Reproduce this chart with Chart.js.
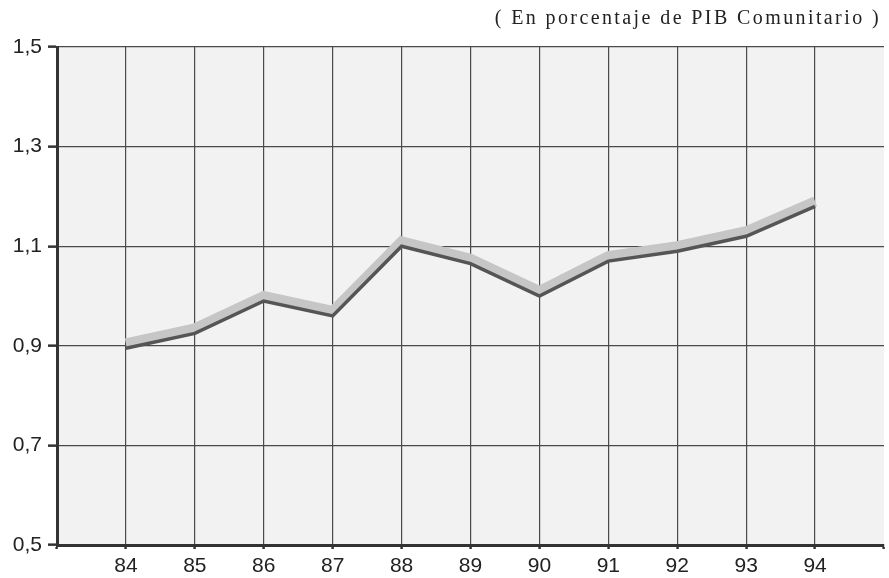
<!DOCTYPE html>
<html>
<head>
<meta charset="utf-8">
<script src="https://cdn.jsdelivr.net/npm/chart.js@4/dist/chart.umd.min.js"></script>
<style>
  html, body { margin: 0; padding: 0; background: #ffffff; }
  #wrap { width: 889px; height: 578px; position: relative; }
</style>
</head>
<body>
<div id="wrap"><canvas id="c" width="889" height="578"></canvas></div>
<script>
const titleText = '( En porcentaje de PIB Comunitario )';
const years = [84, 85, 86, 87, 88, 89, 90, 91, 92, 93, 94];
const values = [0.895, 0.925, 0.99, 0.96, 1.10, 1.065, 1.0, 1.07, 1.09, 1.12, 1.18];
const yTicks = [0.5, 0.7, 0.9, 1.1, 1.3, 1.5];
const xMin = 83, xMax = 95;

const points = years.map((yr, i) => ({ x: yr, y: values[i] }));

const plotBg = {
  id: 'plotBg',
  beforeDraw(chart) {
    const { ctx, chartArea: a } = chart;
    ctx.save();
    ctx.fillStyle = '#f2f2f2';
    ctx.fillRect(a.left, a.top, a.right - a.left, a.bottom - a.top);
    ctx.restore();
  }
};

const shadowShift = {
  id: 'shadowShift',
  beforeDatasetDraw(chart, args) {
    if (args.index === 1) { chart.ctx.save(); chart.ctx.translate(0, -5); }
  },
  afterDatasetDraw(chart, args) {
    if (args.index === 1) { chart.ctx.restore(); }
  }
};

const titlePlugin = {
  id: 'titlePlugin',
  afterDraw(chart) {
    const ctx = chart.ctx;
    ctx.save();
    ctx.font = '20px "Liberation Serif", "Times New Roman", serif';
    ctx.letterSpacing = '2.4px';
    ctx.fillStyle = '#222';
    ctx.textAlign = 'right';
    ctx.textBaseline = 'alphabetic';
    ctx.fillText(titleText, 881, 24);
    ctx.restore();
  }
};

new Chart(document.getElementById('c'), {
  type: 'line',
  data: {
    datasets: [
      {
        data: points,
        borderColor: '#555555',
        borderWidth: 3.5,
        pointRadius: 0,
        tension: 0,
        order: 0
      },
      {
        data: points,
        borderColor: '#c6c6c6',
        borderWidth: 10,
        pointRadius: 0,
        tension: 0,
        order: 1
      }
    ]
  },
  options: {
    responsive: false,
    animation: false,
    layout: { padding: { top: 47, right: 2, left: 0, bottom: 0 } },
    plugins: { legend: { display: false }, tooltip: { enabled: false }, title: { display: false } },
    scales: {
      x: {
        type: 'linear',
        min: xMin,
        max: xMax,
        afterFit(scale) { scale.height = 33; },
        afterBuildTicks(scale) {
          const t = [xMin].concat(years, [xMax]);
          scale.ticks = t.map(v => ({ value: v }));
        },
        ticks: {
          autoSkip: false,
          maxRotation: 0,
          padding: 5,
          color: '#222',
          font: { family: '"Liberation Sans", Arial, sans-serif', size: 21 },
          callback: (v) => years.includes(v) ? String(v) : ''
        },
        grid: {
          color: (c) => (c.tick && c.tick.value === xMax) ? 'rgba(0,0,0,0)' : '#4a4a4a',
          lineWidth: 1.2,
          tickLength: 4,
          tickColor: '#333',
          tickWidth: 2.5
        },
        border: { display: true, color: '#333', width: 3 }
      },
      y: {
        type: 'linear',
        min: 0.5,
        max: 1.5,
        afterFit(scale) { scale.width = 57; },
        afterBuildTicks(scale) {
          scale.ticks = yTicks.map(v => ({ value: v }));
        },
        ticks: {
          padding: 6,
          color: '#222',
          font: { family: '"Liberation Sans", Arial, sans-serif', size: 21 },
          callback: (v) => v.toFixed(1).replace('.', ',')
        },
        grid: {
          color: '#4a4a4a',
          lineWidth: 1.3,
          tickLength: 9,
          tickColor: '#333',
          tickWidth: 2.5
        },
        border: { display: true, color: '#333', width: 3 }
      }
    }
  },
  plugins: [plotBg, shadowShift, titlePlugin]
});
</script>
</body>
</html>
